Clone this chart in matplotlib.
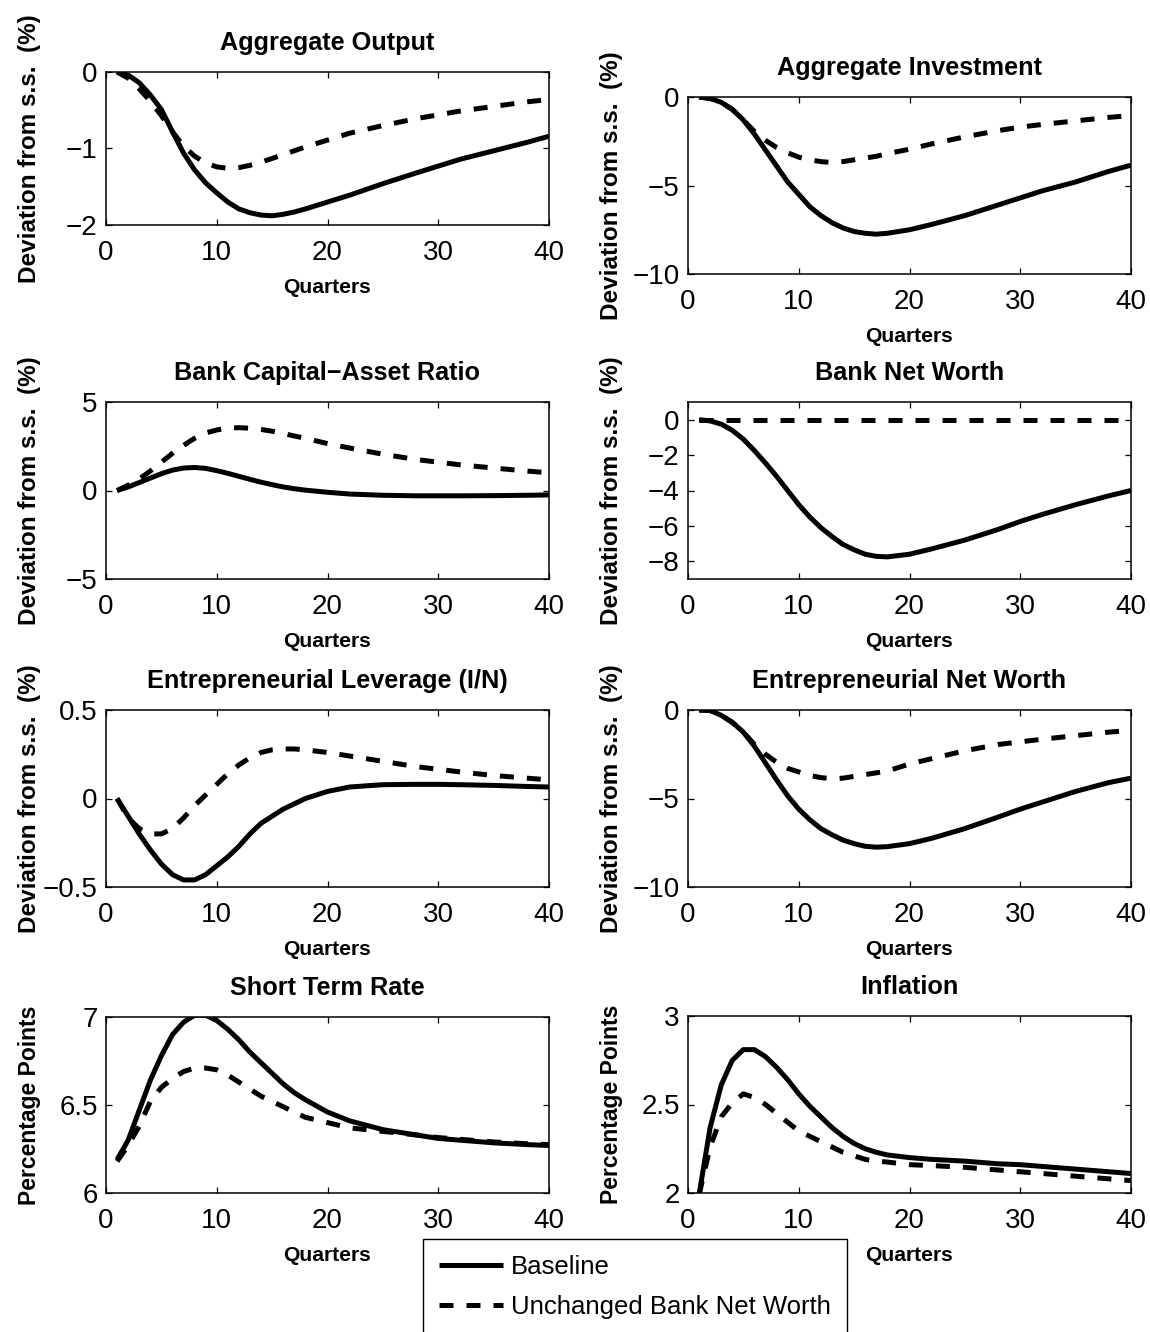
import matplotlib
matplotlib.use('Agg')
import matplotlib.pyplot as plt
from matplotlib.ticker import FuncFormatter, FixedLocator
from matplotlib.lines import Line2D

# ---------------- data ----------------
quarters = [1, 2, 3, 4, 5, 6, 7, 8, 9, 10, 11, 12, 13, 14, 15, 16, 17, 18,
            20, 22, 25, 28, 30, 32, 35, 38, 40]

output_base = [0, -0.04, -0.14, -0.30, -0.49, -0.78, -1.06, -1.28, -1.45, -1.58, -1.70, -1.79, -1.84, -1.87,
               -1.88, -1.86, -1.83, -1.79, -1.70, -1.61, -1.46, -1.32, -1.23, -1.14, -1.03, -0.92, -0.84]
output_unch = [0, -0.08, -0.22, -0.38, -0.57, -0.78, -0.97, -1.10, -1.19, -1.24, -1.26, -1.25, -1.22, -1.18,
               -1.13, -1.08, -1.03, -0.98, -0.89, -0.80, -0.70, -0.61, -0.56, -0.51, -0.45, -0.39, -0.36]

invest_base = [0, -0.08, -0.3, -0.7, -1.3, -2.1, -3.0, -3.9, -4.8, -5.5, -6.2, -6.7, -7.1, -7.4,
               -7.6, -7.7, -7.75, -7.7, -7.5, -7.2, -6.7, -6.1, -5.7, -5.3, -4.8, -4.2, -3.85]
invest_unch = [0, -0.08, -0.3, -0.7, -1.3, -1.95, -2.45, -2.85, -3.15, -3.4, -3.55, -3.65, -3.7, -3.65,
               -3.55, -3.45, -3.35, -3.2, -2.95, -2.65, -2.25, -1.9, -1.7, -1.55, -1.35, -1.15, -1.05]

capratio_base = [0, 0.2, 0.45, 0.7, 0.95, 1.15, 1.27, 1.3, 1.25, 1.12, 0.97, 0.8, 0.63, 0.47,
                 0.33, 0.2, 0.1, 0.02, -0.1, -0.2, -0.27, -0.3, -0.3, -0.3, -0.29, -0.27, -0.25]
capratio_unch = [0, 0.3, 0.65, 1.1, 1.6, 2.1, 2.55, 2.95, 3.25, 3.42, 3.52, 3.55, 3.52, 3.45,
                 3.35, 3.22, 3.08, 2.95, 2.65, 2.4, 2.05, 1.75, 1.6, 1.45, 1.27, 1.1, 1.0]

banknw_base = [0, -0.07, -0.25, -0.6, -1.1, -1.75, -2.45, -3.2, -4.0, -4.8, -5.5, -6.1, -6.6, -7.05,
               -7.35, -7.6, -7.72, -7.75, -7.6, -7.3, -6.8, -6.2, -5.75, -5.35, -4.8, -4.3, -4.0]
banknw_unch = [0, 0, 0, 0, 0, 0, 0, 0, 0, 0, 0, 0, 0, 0,
               0, 0, 0, 0, 0, 0, 0, 0, 0, 0, 0, 0, 0]

lever_base = [0, -0.1, -0.2, -0.29, -0.37, -0.43, -0.46, -0.46, -0.43, -0.38, -0.33, -0.27, -0.2, -0.14,
              -0.1, -0.06, -0.03, 0.0, 0.04, 0.065, 0.078, 0.08, 0.08, 0.078, 0.074, 0.068, 0.065]
lever_unch = [0, -0.11, -0.17, -0.2, -0.2, -0.17, -0.11, -0.04, 0.02, 0.08, 0.14, 0.19, 0.23, 0.26,
              0.275, 0.28, 0.28, 0.275, 0.26, 0.24, 0.21, 0.18, 0.165, 0.15, 0.13, 0.115, 0.105]

entnw_base = [0, -0.03, -0.3, -0.7, -1.25, -2.05, -3.0, -3.95, -4.85, -5.6, -6.2, -6.7, -7.05, -7.35,
              -7.55, -7.7, -7.75, -7.72, -7.55, -7.25, -6.7, -6.05, -5.6, -5.2, -4.6, -4.1, -3.85]
entnw_unch = [0, -0.03, -0.3, -0.7, -1.25, -1.95, -2.5, -2.95, -3.3, -3.5, -3.7, -3.82, -3.88, -3.85,
              -3.75, -3.65, -3.55, -3.45, -3.05, -2.75, -2.3, -1.95, -1.8, -1.65, -1.45, -1.25, -1.15]

rate_base = [6.19, 6.3, 6.47, 6.64, 6.78, 6.9, 6.97, 7.01, 7.01, 6.98, 6.93, 6.87, 6.8, 6.74,
             6.68, 6.62, 6.57, 6.53, 6.46, 6.41, 6.36, 6.33, 6.31, 6.3, 6.285, 6.275, 6.27]
rate_unch = [6.18, 6.27, 6.38, 6.52, 6.6, 6.65, 6.69, 6.71, 6.71, 6.7, 6.67, 6.63, 6.59, 6.55,
             6.52, 6.49, 6.46, 6.43, 6.4, 6.37, 6.35, 6.33, 6.315, 6.305, 6.29, 6.28, 6.275]

infl_base = [1.99, 2.37, 2.61, 2.75, 2.81, 2.81, 2.77, 2.71, 2.64, 2.56, 2.49, 2.43, 2.37, 2.32,
             2.28, 2.25, 2.23, 2.215, 2.2, 2.19, 2.18, 2.165, 2.16, 2.15, 2.135, 2.12, 2.11]
infl_unch = [1.99, 2.26, 2.43, 2.51, 2.56, 2.54, 2.5, 2.45, 2.4, 2.35, 2.32, 2.29, 2.26, 2.23,
             2.21, 2.19, 2.18, 2.175, 2.16, 2.155, 2.145, 2.13, 2.12, 2.11, 2.095, 2.08, 2.07]

titles = ["Aggregate Output", "Aggregate Investment", "Bank Capital\u2212Asset Ratio", "Bank Net Worth",
          "Entrepreneurial Leverage (I/N)", "Entrepreneurial Net Worth", "Short Term Rate", "Inflation"]
ylabels = ["Deviation from s.s.  (%)"] * 6 + ["Percentage Points"] * 2
yticks = [[-2, -1, 0], [-10, -5, 0], [-5, 0, 5], [-8, -6, -4, -2, 0],
          [-0.5, 0, 0.5], [-10, -5, 0], [6, 6.5, 7], [2, 2.5, 3]]
ylims = [(-2, 0), (-10, 0), (-5, 5), (-9, 1), (-0.5, 0.5), (-10, 0), (6, 7), (2, 3)]
xticks = [0, 10, 20, 30, 40]
xlabel = "Quarters"
legend_labels = ["Baseline", "Unchanged Bank Net Worth"]

baseline_series = [output_base, invest_base, capratio_base, banknw_base,
                   lever_base, entnw_base, rate_base, infl_base]
unchanged_series = [output_unch, invest_unch, capratio_unch, banknw_unch,
                    lever_unch, entnw_unch, rate_unch, infl_unch]

# ---------------- style ----------------
FONT = 'Liberation Sans'
plt.rcParams['font.family'] = [FONT, 'DejaVu Sans']
plt.rcParams['axes.unicode_minus'] = True

W, H = 1150, 1332
fig = plt.figure(figsize=(W / 100, H / 100), dpi=100)

col_x = [106, 688]
ax_w = 443
row_boxes = [(72, 225), (97, 274), (402, 579), (402, 579),
             (710, 887), (710, 887), (1017, 1193), (1016, 1193)]

fmt = FuncFormatter(lambda v, p: f"{v:g}".replace('-', '\u2212'))
LW = 3.6
dash = (0, (2.8, 2.6))

for i in range(8):
    top, bot = row_boxes[i]
    x0 = col_x[i % 2]
    ax = fig.add_axes([x0 / W, 1 - bot / H, ax_w / W, (bot - top) / H])
    ax.plot(quarters, baseline_series[i], color='black', lw=LW, solid_capstyle='butt')
    ax.plot(quarters, unchanged_series[i], color='black', lw=LW, linestyle=dash, dash_capstyle='butt')
    ax.set_xlim(0, 40)
    ax.set_ylim(*ylims[i])
    ax.xaxis.set_major_locator(FixedLocator(xticks))
    ax.yaxis.set_major_locator(FixedLocator(yticks[i]))
    ax.xaxis.set_major_formatter(fmt)
    ax.yaxis.set_major_formatter(fmt)
    ax.tick_params(direction='in', length=4.5, width=0.9, top=True, right=True, labelsize=20)
    ax.tick_params(axis='x', pad=10.5)
    ax.tick_params(axis='y', pad=6)
    for s in ax.spines.values():
        s.set_linewidth(1.1)
    ax.set_title(titles[i], fontsize=18.2, fontweight='bold', pad=16)
    ax.set_xlabel(xlabel, fontsize=15.2, fontweight='bold', labelpad=9)
    ysize = 17.5 if ylabels[i].startswith('Deviation') else 16.5
    ax.set_ylabel(ylabels[i], fontsize=ysize, fontweight='bold')
    ax.yaxis.set_label_coords(-0.147, 0.5)

handles = [Line2D([], [], color='black', lw=LW, solid_capstyle='butt'),
           Line2D([], [], color='black', lw=LW, linestyle=dash, dash_capstyle='butt')]
leg = fig.legend(handles, legend_labels, loc='upper left',
                 bbox_to_anchor=(423 / W, 1 - 1239 / H), bbox_transform=fig.transFigure,
                 prop={'size': 18.5}, frameon=True, fancybox=False,
                 framealpha=1, edgecolor='black', borderpad=0.62, labelspacing=0.62,
                 handlelength=2.5, handletextpad=0.3, borderaxespad=0)
leg.get_frame().set_linewidth(1.0)

fig.savefig('out.png', dpi=100)
